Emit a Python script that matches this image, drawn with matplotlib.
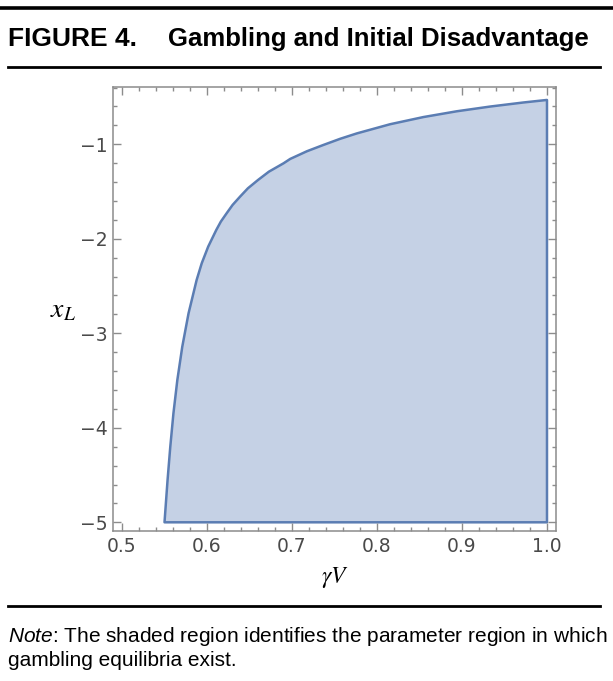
import matplotlib
matplotlib.use("Agg")
import matplotlib.pyplot as plt
from matplotlib.lines import Line2D
from matplotlib.ticker import MultipleLocator

plt.rcParams['mathtext.fontset'] = 'custom'
plt.rcParams['mathtext.it'] = 'Liberation Sans:italic'
plt.rcParams['mathtext.rm'] = 'Liberation Sans'

# boundary of the gambling region (gamma*V, x_L)
gamma_v = [0.5500, 0.5536, 0.5568, 0.5605, 0.5651, 0.5709, 0.5783, 0.5878,
           0.5938, 0.6014, 0.6109, 0.6163, 0.6231, 0.6301, 0.6389, 0.6481,
           0.6600, 0.6728, 0.6901, 0.6979, 0.7175, 0.7370, 0.7567, 0.7763,
           0.8154, 0.8546, 0.8938, 0.9330, 0.9721, 1.0000]
x_l = [-5.000, -4.552, -4.200, -3.847, -3.494, -3.142, -2.788, -2.436,
       -2.259, -2.083, -1.907, -1.818, -1.730, -1.642, -1.554, -1.466,
       -1.378, -1.290, -1.201, -1.155, -1.074, -1.007, -0.942, -0.885,
       -0.788, -0.712, -0.651, -0.601, -0.558, -0.531]
x_floor = -5.0
x_ticks = [0.5, 0.6, 0.7, 0.8, 0.9, 1.0]
y_ticks = [-1, -2, -3, -4, -5]

W, H = 613, 681
fig = plt.figure(figsize=(W / 100, H / 100), dpi=100)

def fx(px):
    return px / W

def fy(py):
    return 1 - py / H

ax = fig.add_axes([fx(113), fy(531), fx(556) - fx(113), fy(87) - fy(531)])

edge = '#5b7db3'
fill = '#c5d1e5'
poly_x = gamma_v + [gamma_v[-1]]
poly_y = x_l + [x_floor]
ax.fill(poly_x, poly_y, facecolor=fill, edgecolor=edge, linewidth=1.8,
        joinstyle='round')

ax.set_xlim(0.4894, 1.0106)
ax.set_ylim(-5.092, -0.394)
ax.set_xticks(x_ticks)
ax.set_xticklabels(['%.1f' % t for t in x_ticks])
ax.set_yticks(y_ticks)
ax.set_yticklabels(['\u2212%d' % abs(t) for t in y_ticks])
ax.xaxis.set_minor_locator(MultipleLocator(0.02))
ax.yaxis.set_minor_locator(MultipleLocator(0.2))

frame = '#8c8c8c'
for s in ax.spines.values():
    s.set_color(frame)
    s.set_linewidth(1.1)
ax.tick_params(which='both', direction='in', top=True, right=True,
               color=frame, width=1.0)
ax.tick_params(which='major', length=5.5, labelsize=13.5, labelcolor='#4a4a4a',
               pad=4)
ax.tick_params(which='minor', length=3)

ax.set_xlabel(r'$\gamma V$', fontsize=17, math_fontfamily='stix', labelpad=7)
ax.set_ylabel(r'$x_L$', fontsize=20, math_fontfamily='stix', rotation=0,
              labelpad=12, va='center')

# header and footer rules
fig.add_artist(Line2D([0, 1], [fy(7.5), fy(7.5)], color='black', linewidth=2.6))
fig.add_artist(Line2D([fx(8), fx(600)], [fy(67), fy(67)], color='black', linewidth=2.0))
fig.add_artist(Line2D([fx(8), fx(600)], [fy(606), fy(606)], color='black', linewidth=2.0))

fig.text(fx(8), fy(39), 'FIGURE 4.', family='Liberation Sans', weight='bold',
         fontsize=19, va='center', ha='left')
fig.text(fx(589), fy(39), 'Gambling and Initial Disadvantage',
         family='Liberation Sans', weight='bold', fontsize=18.5,
         va='center', ha='right')

fig.text(fx(8), fy(636), r'$Note$: The shaded region identifies the parameter region in which',
         family='Liberation Sans', fontsize=15, va='center', ha='left')
fig.text(fx(8), fy(660), 'gambling equilibria exist.',
         family='Liberation Sans', fontsize=15, va='center', ha='left')

fig.savefig('out.png', dpi=100)
